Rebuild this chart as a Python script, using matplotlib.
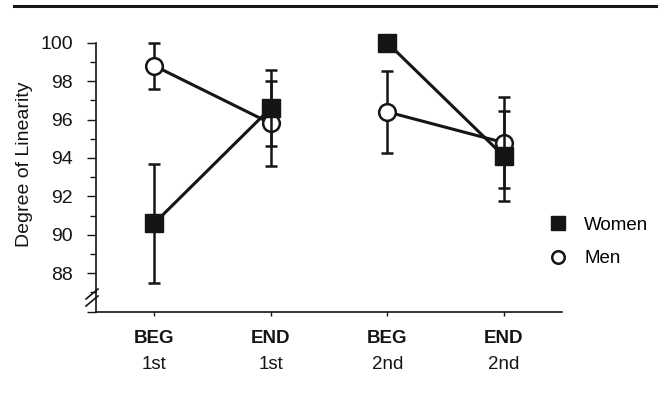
import matplotlib.pyplot as plt
from matplotlib.lines import Line2D

plt.rcParams['font.family'] = ['Liberation Sans', 'DejaVu Sans']

phase = ['BEG', 'END', 'BEG', 'END']
session = ['1st', '1st', '2nd', '2nd']

women = [90.6, 96.6, 100.0, 94.1]
women_err = [3.1, 2.0, 0.0, 2.35]
men = [98.8, 95.8, 96.4, 94.8]
men_err = [1.2, 2.2, 2.15, 2.35]

ink = '#151515'

fig = plt.figure(figsize=(6.65, 3.93), dpi=100)
ax = fig.add_axes([96 / 665, 1 - 311.7 / 393, (562 - 96) / 665, (311.7 - 42.7) / 393])

x = [1, 2, 3, 4]
# two separate line segments for each group (1st session / 2nd session)
for seg in (slice(0, 2), slice(2, 4)):
    ax.errorbar(x[seg], men[seg], yerr=men_err[seg], color=ink, lw=2.2,
                elinewidth=1.8, capsize=4.5, capthick=1.8, marker='o', ms=12,
                mfc='white', mec=ink, mew=1.8, clip_on=False, zorder=3)
    ax.errorbar(x[seg], women[seg], yerr=women_err[seg], color=ink, lw=2.2,
                elinewidth=1.8, capsize=4.5, capthick=1.8, marker='s', ms=12.5,
                mfc=ink, mec=ink, clip_on=False, zorder=4)

ax.set_xlim(0.5, 4.5)
ax.set_ylim(86, 100)
ax.set_yticks(range(86, 101, 2))
ax.set_yticklabels([''] + [str(v) for v in range(88, 101, 2)])
ax.set_yticks(range(87, 100, 2), minor=True)
ax.tick_params(axis='y', which='major', length=6.5, width=1, pad=10, labelsize=14, colors=ink)
ax.tick_params(axis='y', which='minor', length=4, width=1, colors=ink)
ax.set_xticks(x)
ax.set_xticklabels([])
ax.tick_params(axis='x', length=3, width=1, colors=ink)

for s in ('top', 'right'):
    ax.spines[s].set_visible(False)
for s in ('left', 'bottom'):
    ax.spines[s].set_color(ink)
    ax.spines[s].set_linewidth(1.2)

for xi, p, s in zip(x, phase, session):
    ax.annotate(p, (xi, 0), xycoords=('data', 'axes fraction'), xytext=(0, -27),
                textcoords='offset pixels', ha='center', va='center',
                fontsize=13.5, fontweight='bold', color=ink)
    ax.annotate(s, (xi, 0), xycoords=('data', 'axes fraction'), xytext=(0, -53),
                textcoords='offset pixels', ha='center', va='center',
                fontsize=13.5, color=ink)

# axis break marks
for dy in (0, 7):
    fig.add_artist(Line2D([86 / 665, 98 / 665],
                          [1 - (299 + dy) / 393, 1 - (289 + dy) / 393],
                          color=ink, lw=1.2))

fig.text(25 / 665, 1 - 164 / 393, 'Degree of Linearity', rotation=90,
         ha='center', va='center', fontsize=14, color=ink)

# top rule
fig.add_artist(Line2D([14 / 665, 656 / 665], [1 - 6 / 393, 1 - 6 / 393], color=ink, lw=2.2))

handles = [Line2D([], [], ls='none', marker='s', ms=10, mfc=ink, mec=ink),
           Line2D([], [], ls='none', marker='o', ms=9, mfc='white', mec=ink, mew=1.8)]
fig.legend(handles, ['Women', 'Men'], loc='center left',
           bbox_to_anchor=(530 / 665, 1 - 242 / 393), frameon=False,
           fontsize=13.5, handlelength=1.2, handletextpad=0.8, labelspacing=0.85)

fig.savefig('out.png', dpi=100)
